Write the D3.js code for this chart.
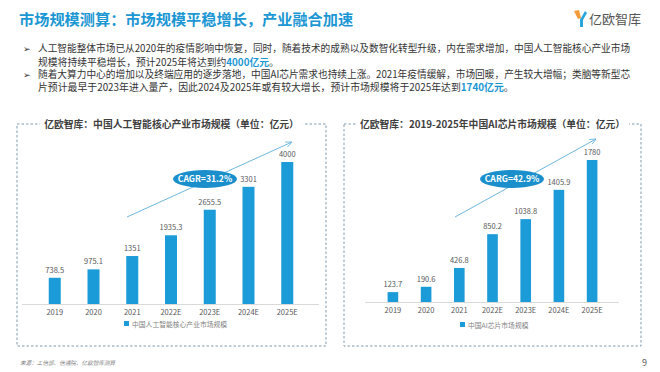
<!DOCTYPE html>
<html>
<head>
<meta charset="utf-8">
<script src="https://cdn.jsdelivr.net/npm/d3@7"></script>
<style>
  body { margin: 0; background: #fff; }
  text { font-family: "Noto Sans CJK SC", "Noto Sans", sans-serif; }
</style>
</head>
<body>
<div id="chart"></div>
<script>
// data
var years = ["2019", "2020", "2021", "2022E", "2023E", "2024E", "2025E"];
var aiCore = [738.5, 975.1, 1351, 1935.3, 2655.5, 3301, 4000];
var aiChip = [123.7, 190.6, 426.8, 850.2, 1038.8, 1405.9, 1780];
var blue = "#1b9bd7";

var svg = d3.select("#chart").append("svg")
    .attr("width", 660)
    .attr("height", 372);

svg.append("defs").append("marker")
    .attr("id", "arrow")
    .attr("viewBox", "0 0 10 10")
    .attr("refX", 9).attr("refY", 5)
    .attr("markerWidth", 7).attr("markerHeight", 7)
    .attr("orient", "auto")
    .append("path")
    .attr("d", "M0,1 L9,5 L0,9")
    .attr("fill", "none")
    .attr("stroke", "#6fb6dc")
    .attr("stroke-width", 1.2);

// page title
svg.append("text")
    .attr("x", 19).attr("y", 25)
    .attr("font-size", 15.2)
    .attr("font-weight", "bold")
    .attr("fill", "#1c97d3")
    .text("市场规模测算：市场规模平稳增长，产业融合加速");

// logo
var logo = svg.append("g").attr("transform", "translate(574,10)");
logo.append("path").attr("d", "M0,1 L5,0 L7,8 L4,9 Z").attr("fill", "#f39a3b");
logo.append("path").attr("d", "M7,8 L11,1 L13,3 L9,10 L9,17 L6,17 L6,9 Z").attr("fill", "#2aa5dc");
svg.append("text")
    .attr("x", 589).attr("y", 24)
    .attr("font-size", 13)
    .attr("fill", "#555")
    .text("亿欧智库");

// bullets
var lines = [
  [{t: "人工智能整体市场已从2020年的疫情影响中恢复，同时，随着技术的成熟以及数智化转型升级，内在需求增加，中国人工智能核心产业市场"}],
  [{t: "规模将持续平稳增长，预计2025年将达到约"}, {t: "4000亿元", hi: true}, {t: "。"}],
  [{t: "随着大算力中心的增加以及终端应用的逐步落地，中国AI芯片需求也持续上涨。2021年疫情缓解，市场回暖，产生较大增幅；类脑等新型芯"}],
  [{t: "片预计最早于2023年进入量产，因此2024及2025年或有较大增长，预计市场规模将于2025年达到"}, {t: "1740亿元", hi: true}, {t: "。"}]
];
var lineY = [52, 65.5, 78, 91];
var lineEnd = [631, 279, 631, 514]; // right edge of each line in the reference
lines.forEach(function(parts, i){
  var tx = svg.append("text")
      .attr("x", 38).attr("y", lineY[i])
      .attr("font-size", 10)
      .attr("fill", "#333");
  parts.forEach(function(p){
    tx.append("tspan")
      .attr("fill", p.hi ? "#1c97d3" : "#333")
      .attr("font-weight", p.hi ? "bold" : null)
      .text(p.t);
  });
  // fit the line to the reference width
  var w = tx.node().getComputedTextLength();
  tx.attr("font-size", 10 * (lineEnd[i] - 38) / w);
});
[52, 78].forEach(function(y){
  svg.append("text").attr("x", 23).attr("y", y)
      .attr("font-size", 9).attr("fill", "#333").text("➢");
});

// one chart panel
function drawPanel(opt){
  var g = svg.append("g");
  // dashed box
  g.append("rect")
      .attr("x", opt.box[0]).attr("y", opt.box[1])
      .attr("width", opt.box[2]).attr("height", opt.box[3])
      .attr("fill", "none")
      .attr("stroke", "#7e9bb0")
      .attr("stroke-width", 1)
      .attr("stroke-dasharray", "2.5,2");
  var title = g.append("text")
      .attr("x", opt.box[0] + opt.box[2] / 2).attr("y", opt.box[1] + 4)
      .attr("text-anchor", "middle")
      .attr("font-size", 9.8)
      .attr("font-weight", "bold")
      .attr("fill", "#404040")
      .text(opt.title);
  var bb = title.node().getBBox();
  g.insert("rect", "text")
      .attr("x", bb.x - 4).attr("y", bb.y)
      .attr("width", bb.width + 8).attr("height", bb.height)
      .attr("fill", "#fff");

  var x = d3.scaleBand().domain(years).range(opt.xr).padding(opt.pad);
  var y = d3.scaleLinear().domain([0, d3.max(opt.values)]).range([opt.base, opt.top]);

  g.append("line")
      .attr("x1", opt.axis[0]).attr("x2", opt.axis[1])
      .attr("y1", opt.base + 0.5).attr("y2", opt.base + 0.5)
      .attr("stroke", "#d9d9d9");

  g.selectAll(".bar").data(opt.values).enter().append("rect")
      .attr("x", function(d, i){ return x(years[i]); })
      .attr("y", function(d){ return y(d); })
      .attr("width", x.bandwidth())
      .attr("height", function(d){ return opt.base - y(d); })
      .attr("fill", blue);

  g.selectAll(".val").data(opt.values).enter().append("text")
      .attr("x", function(d, i){ return x(years[i]) + x.bandwidth() / 2; })
      .attr("y", function(d){ return y(d) - 5; })
      .attr("text-anchor", "middle")
      .attr("font-size", 7.5)
      .attr("fill", "#595959")
      .text(function(d){ return d; });

  g.selectAll(".xl").data(years).enter().append("text")
      .attr("x", function(d){ return x(d) + x.bandwidth() / 2; })
      .attr("y", opt.base + 11)
      .attr("text-anchor", "middle")
      .attr("font-size", 7.5)
      .attr("fill", "#595959")
      .text(function(d){ return d; });

  // legend
  g.append("rect")
      .attr("x", opt.legend[0]).attr("y", opt.legend[1] - 3)
      .attr("width", 5).attr("height", 5)
      .attr("fill", blue);
  g.append("text")
      .attr("x", opt.legend[0] + 8).attr("y", opt.legend[1] + 2.5)
      .attr("font-size", 6.8)
      .attr("fill", "#7f7f7f")
      .text(opt.legendText);

  // trend arrow
  g.append("line")
      .attr("x1", opt.arrow[0]).attr("y1", opt.arrow[1])
      .attr("x2", opt.arrow[2]).attr("y2", opt.arrow[3])
      .attr("stroke", "#6fb6dc")
      .attr("stroke-width", 1)
      .attr("marker-end", "url(#arrow)");
  g.append("ellipse")
      .attr("cx", opt.badge[0]).attr("cy", opt.badge[1])
      .attr("rx", 32).attr("ry", 9)
      .attr("fill", "#1a8fcb");
  g.append("text")
      .attr("x", opt.badge[0]).attr("y", opt.badge[1] + 3.2)
      .attr("text-anchor", "middle")
      .attr("font-size", 8.6)
      .attr("font-weight", "bold")
      .attr("fill", "#fff")
      .text(opt.badgeText);
}

drawPanel({
  box: [17, 124, 309, 222],
  title: "亿欧智库：中国人工智能核心产业市场规模（单位：亿元）",
  values: aiCore,
  xr: [22, 320], pad: 0.69,
  base: 304, top: 162,
  axis: [22, 319],
  legend: [124, 324],
  legendText: "中国人工智能核心产业市场规模",
  arrow: [127, 217, 292, 142],
  badge: [205, 179],
  badgeText: "CAGR=31.2%"
});

drawPanel({
  box: [344, 124, 297, 222],
  title: "亿欧智库：2019-2025年中国AI芯片市场规模（单位：亿元）",
  values: aiChip,
  xr: [365, 620], pad: 0.68,
  base: 302, top: 160,
  axis: [365, 619],
  legend: [460, 325],
  legendText: "中国AI芯片市场规模",
  arrow: [455, 217, 596, 139],
  badge: [512, 179],
  badgeText: "CARG=42.9%"
});

// footer
svg.append("text")
    .attr("x", 20).attr("y", 365)
    .attr("font-size", 5.6)
    .attr("font-style", "italic")
    .attr("fill", "#7f7f7f")
    .text("来源：工信部、信通院、亿欧智库测算");
svg.append("text")
    .attr("x", 642).attr("y", 366)
    .attr("font-size", 9)
    .attr("fill", "#595959")
    .text("9");
</script>
</body>
</html>
